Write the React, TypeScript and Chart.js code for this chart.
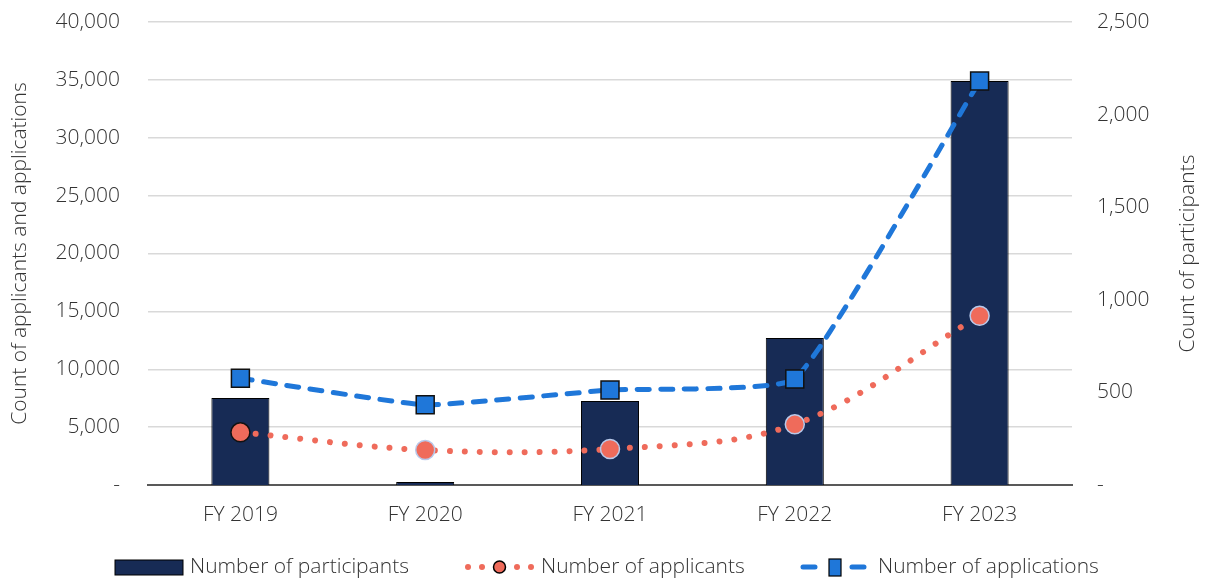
import React, { useEffect, useRef } from "react";
import { Chart, registerables } from "chart.js";

Chart.register(...registerables);

const categories = ["FY 2019", "FY 2020", "FY 2021", "FY 2022", "FY 2023"];
const participants = [470, 16, 454, 794, 2181];
const applicants = [4550, 3020, 3110, 5240, 14620];
const applications = [9220, 6930, 8210, 9160, 34900];
const leftTicks = [0, 5000, 10000, 15000, 20000, 25000, 30000, 35000, 40000];
const rightTicks = [0, 500, 1000, 1500, 2000, 2500];
const leftTitle = "Count of applicants and applications";
const rightTitle = "Count of participants";

const FONT = "'Open Sans', 'Noto Sans', sans-serif";
const WEIGHT = 300;
const SIZE = 21;
const TEXT = "#333333";
const NAVY = "#172b55";
const BLUE = "#1f77d9";
const RED = "#ef6b5b";

const fmt = (v: number) => (v === 0 ? "-" : v.toLocaleString("en-US"));

const legendPlugin = {
  id: "customLegend",
  afterDraw(chart: any) {
    const ctx = chart.ctx as CanvasRenderingContext2D;
    const y = 567;
    ctx.save();
    ctx.font = `${WEIGHT} ${SIZE}px ${FONT}`;
    ctx.textBaseline = "middle";
    ctx.textAlign = "left";
    // right axis title (reads bottom-to-top)
    const ca = chart.chartArea;
    ctx.save();
    ctx.translate(1188, (ca.top + ca.bottom) / 2);
    ctx.rotate(-Math.PI / 2);
    ctx.textAlign = "center";
    ctx.fillStyle = TEXT;
    ctx.fillText(rightTitle, 0, 0);
    ctx.restore();
    // participants
    ctx.fillStyle = NAVY;
    ctx.strokeStyle = "#000";
    ctx.lineWidth = 1;
    ctx.fillRect(115, 560, 68, 15);
    ctx.strokeRect(115, 560, 68, 15);
    ctx.fillStyle = TEXT;
    ctx.fillText("Number of participants", 190, y);
    // applicants
    ctx.fillStyle = RED;
    [468, 482, 517, 531].forEach((x) => {
      ctx.beginPath();
      ctx.arc(x, y, 3, 0, Math.PI * 2);
      ctx.fill();
    });
    ctx.beginPath();
    ctx.arc(499.5, y, 6, 0, Math.PI * 2);
    ctx.fill();
    ctx.strokeStyle = "#000";
    ctx.lineWidth = 1.5;
    ctx.stroke();
    ctx.fillStyle = TEXT;
    ctx.fillText("Number of applicants", 541, y);
    // applications
    ctx.strokeStyle = BLUE;
    ctx.lineWidth = 5;
    ctx.lineCap = "round";
    ctx.beginPath();
    ctx.moveTo(803, y);
    ctx.lineTo(815, y);
    ctx.moveTo(852, y);
    ctx.lineTo(864, y);
    ctx.stroke();
    ctx.fillStyle = BLUE;
    ctx.fillRect(829, 559, 12, 17);
    ctx.strokeStyle = "#000";
    ctx.lineWidth = 1.2;
    ctx.strokeRect(829, 559, 12, 17);
    ctx.fillStyle = TEXT;
    ctx.fillText("Number of applications", 878, y);
    ctx.restore();
  },
};

export default function App() {
  const ref = useRef<HTMLCanvasElement | null>(null);
  useEffect(() => {
    if (!ref.current) return;
    const font = { family: FONT, size: SIZE, weight: WEIGHT as any };
    const chart = new Chart(ref.current, {
      data: {
        labels: categories,
        datasets: [
          {
            type: "line",
            label: "Number of applications",
            data: applications,
            yAxisID: "y",
            borderColor: BLUE,
            borderWidth: 5,
            borderDash: [12, 11.5],
            borderCapStyle: "round",
            tension: 0.12,
            pointStyle: "rect",
            pointRadius: 12.7,
            pointBackgroundColor: BLUE,
            pointBorderColor: "#111",
            pointBorderWidth: 1.5,
            order: 1,
            clip: false,
          } as any,
          {
            type: "line",
            label: "Number of applicants",
            data: applicants,
            yAxisID: "y",
            borderColor: RED,
            borderWidth: 6,
            borderDash: [0.01, 15],
            borderCapStyle: "round",
            tension: 0.35,
            pointStyle: "circle",
            pointRadius: 9.5,
            pointBackgroundColor: RED,
            pointBorderColor: ["#111", "#b8c9ea", "#b8c9ea", "#b8c9ea", "#b8c9ea"],
            pointBorderWidth: 1.5,
            order: 2,
            clip: false,
          } as any,
          {
            type: "bar",
            label: "Number of participants",
            data: participants,
            yAxisID: "y1",
            backgroundColor: NAVY,
            borderColor: "#000",
            borderWidth: 1,
            categoryPercentage: 1,
            barPercentage: 0.314,
            order: 3,
          } as any,
        ],
      },
      options: {
        animation: false,
        responsive: true,
        maintainAspectRatio: false,
        layout: { padding: { top: 22, left: 0, right: 0, bottom: 0 } },
        plugins: {
          legend: { display: false },
          tooltip: { enabled: false },
        },
        scales: {
          x: {
            grid: { display: false, drawTicks: false },
            border: { display: true, color: "#595959", width: 2 },
            ticks: { color: TEXT, font, padding: 17 },
            afterFit: (s: any) => {
              s.height = 97;
              s.paddingLeft = 0;
              s.paddingRight = 0;
            },
          },
          y: {
            position: "left",
            min: 0,
            max: 40000,
            afterBuildTicks: (s: any) => {
              s.ticks = leftTicks.map((v) => ({ value: v }));
            },
            grid: { color: "#d9d9d9", lineWidth: 1.5, drawTicks: false },
            border: { display: false },
            ticks: {
              color: TEXT,
              font,
              padding: 28,
              callback: (v: any) => fmt(Number(v)),
            },
            title: {
              display: true,
              text: leftTitle,
              color: TEXT,
              font,
              padding: { top: 7, bottom: 0 },
            },
            afterFit: (s: any) => {
              s.width = 148;
              s.paddingTop = 0;
              s.paddingBottom = 0;
            },
          },
          y1: {
            position: "right",
            min: 0,
            max: 2500,
            afterBuildTicks: (s: any) => {
              s.ticks = rightTicks.map((v) => ({ value: v }));
            },
            grid: { display: false, drawTicks: false },
            border: { display: false },
            ticks: {
              color: TEXT,
              font,
              padding: 25,
              callback: (v: any) => fmt(Number(v)),
            },
            afterFit: (s: any) => {
              s.width = 133;
              s.paddingTop = 0;
              s.paddingBottom = 0;
            },
          },
        },
      },
      plugins: [legendPlugin],
    });
    return () => chart.destroy();
  }, []);
  return (
    <div style={{ position: "absolute", left: 0, top: 0, width: 1205, height: 582, background: "#fff" }}>
      <canvas ref={ref} />
    </div>
  );
}
